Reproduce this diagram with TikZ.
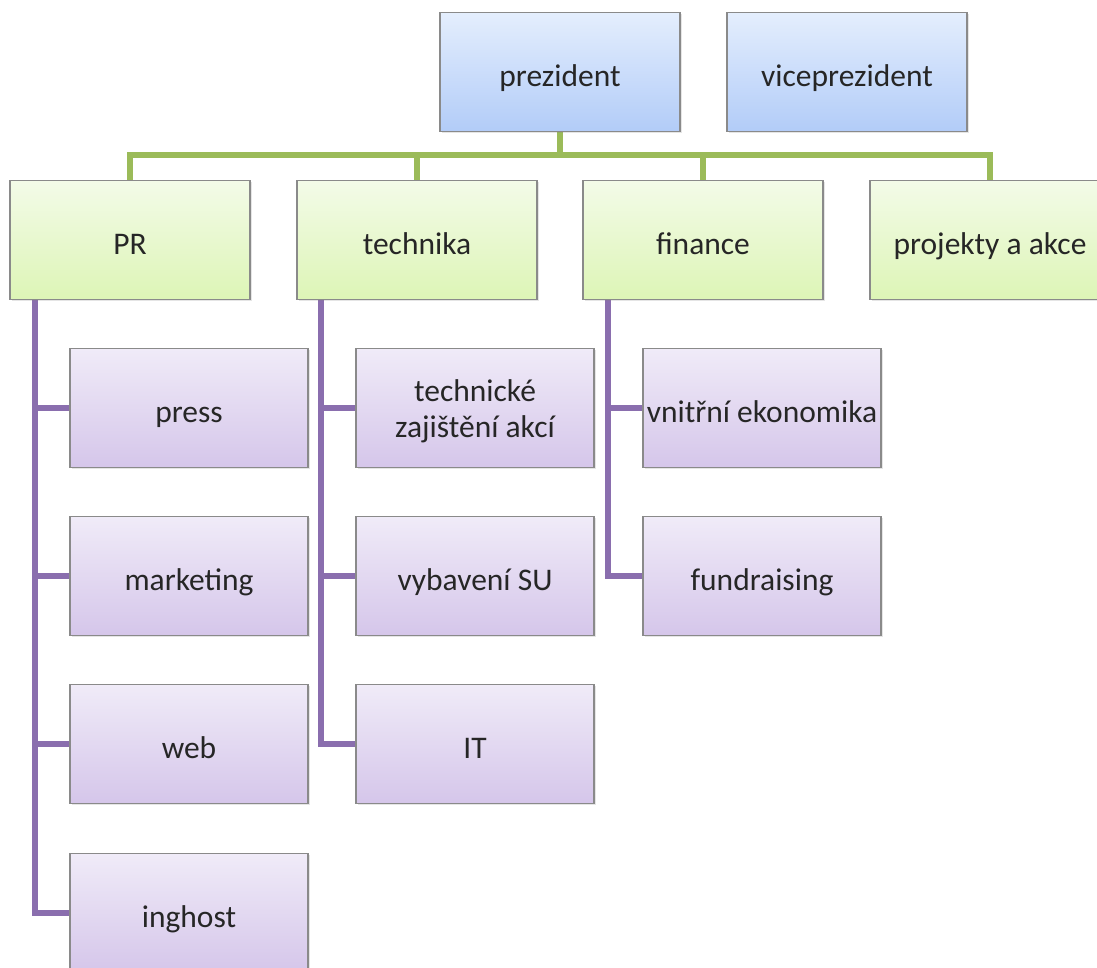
\documentclass[tikz,border=0pt]{standalone}
\usepackage{fontspec}
\setmainfont{Carlito}
\usetikzlibrary{shadows,backgrounds}
\definecolor{bordergray}{HTML}{8A8A8A}
\definecolor{greenline}{HTML}{9BBB59}
\definecolor{purpleline}{HTML}{8A6EAE}
\tikzset{
  basebox/.style={draw=bordergray, line width=1.2pt, minimum width=240pt, minimum height=119pt,
    inner sep=2pt, font=\fontsize{31.5}{36}\selectfont, text=black!85,
    text height=29pt, text depth=0pt,
    drop shadow={opacity=0.2, shadow xshift=1.5pt, shadow yshift=-1.5pt}},
  bluebox/.style={basebox, top color={rgb,255:red,228;green,238;blue,253}, bottom color={rgb,255:red,178;green,204;blue,248}},
  greenbox/.style={basebox, top color={rgb,255:red,243;green,251;blue,232}, bottom color={rgb,255:red,221;green,245;blue,182}},
  purplebox/.style={basebox, minimum width=238pt, top color={rgb,255:red,240;green,235;blue,248}, bottom color={rgb,255:red,213;green,198;blue,234}},
  twoline/.style={text height=0pt, text depth=14pt},
  gline/.style={draw=greenline, line width=6pt},
  pline/.style={draw=purpleline, line width=6pt},
}
\begin{document}
\begin{tikzpicture}[x=1pt,y=-1pt]
\useasboundingbox (0,0) rectangle (1097,967);
% top level
\node[bluebox] (prez) at (560,72) {prezident};
\node[bluebox] (vice) at (847,72) {viceprezident};
% second level
\node[greenbox] (pr) at (130,240) {PR};
\node[greenbox] (tech) at (417,240) {technika};
\node[greenbox] (fin) at (703,240) {finance};
\node[greenbox] (proj) at (990,240) {projekty a akce};
% third level
\node[purplebox] (press) at (189,408) {press};
\node[purplebox] (mark) at (189,576) {marketing};
\node[purplebox] (web) at (189,744) {web};
\node[purplebox] (ingh) at (189,913) {inghost};
\node[purplebox, twoline] (tz) at (475,408) {\begin{tabular}[t]{@{}c@{}}technické\\zajištění akcí\end{tabular}};
\node[purplebox] (vyb) at (475,576) {vybavení SU};
\node[purplebox] (it) at (475,744) {IT};
\node[purplebox] (vnit) at (762,408) {vnitřní ekonomika};
\node[purplebox] (fund) at (762,576) {fundraising};
% connectors
\begin{scope}[on background layer]
\fill[white] (0,0) rectangle (1097,967);
\draw[gline] (prez.south) -- ++(0,23) -| (pr.north);
\draw[gline] (prez.south) -- ++(0,23) -| (tech.north);
\draw[gline] (prez.south) -- ++(0,23) -| (fin.north);
\draw[gline] (prez.south) -- ++(0,23) -| (proj.north);
\draw[pline] ([xshift=26pt]pr.south west) |- (press.west);
\draw[pline] ([xshift=26pt]pr.south west) |- (mark.west);
\draw[pline] ([xshift=26pt]pr.south west) |- (web.west);
\draw[pline] ([xshift=26pt]pr.south west) |- (ingh.west);
\draw[pline] ([xshift=25pt]tech.south west) |- (tz.west);
\draw[pline] ([xshift=25pt]tech.south west) |- (vyb.west);
\draw[pline] ([xshift=25pt]tech.south west) |- (it.west);
\draw[pline] ([xshift=26pt]fin.south west) |- (vnit.west);
\draw[pline] ([xshift=26pt]fin.south west) |- (fund.west);
\end{scope}
\end{tikzpicture}
\end{document}
